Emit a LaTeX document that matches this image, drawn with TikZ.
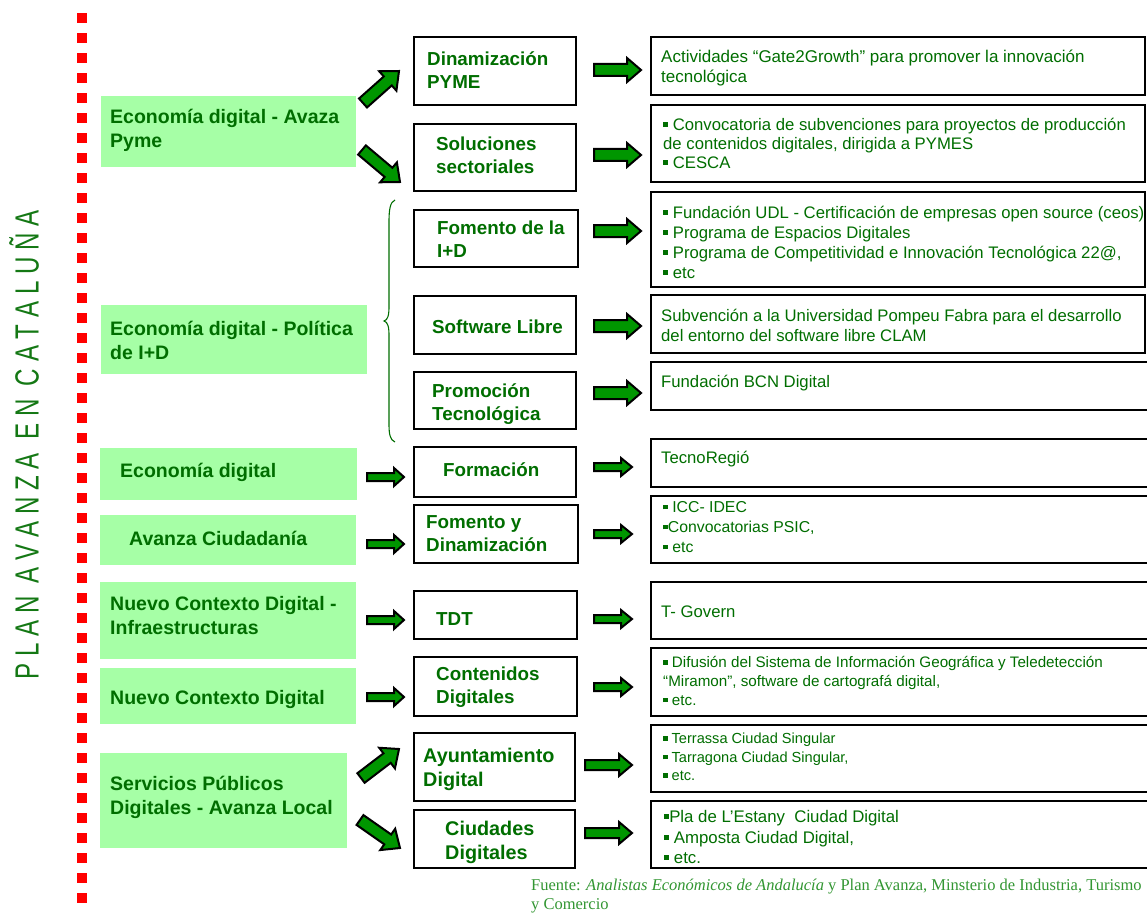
\documentclass[tikz,border=0pt]{standalone}
\usepackage{fontspec}
\setmainfont{Liberation Sans}
\newfontfamily\footfont{Liberation Serif}
\usetikzlibrary{calc}
\definecolor{tgreen}{RGB}{0,110,0}
\definecolor{boxgreen}{RGB}{166,255,166}
\definecolor{agreen}{RGB}{0,150,0}
\definecolor{fgreen}{RGB}{50,150,50}
\definecolor{vgreen}{RGB}{20,120,20}
\newcommand\bul{\raisebox{0.2em}{\rule{0.3em}{0.3em}}}
\newcommand\cbox[6]{\node[#1, minimum width={#5-#3}, minimum height={#6-#4}] (#2) at ({(#3+#5)/2},{(#4+#6)/2}) {};}
\newcommand\barrow[5]{%
  \coordinate (bh) at ($(#2)!#5!(#1)$);
  \draw[blk] ($(#1)!#3!90:(#2)$) -- ($(bh)!#3!90:(#2)$) -- ($(bh)!#4!90:(#2)$) -- (#2)
    -- ($(bh)!#4!-90:(#2)$) -- ($(bh)!#3!-90:(#2)$) -- ($(#1)!#3!-90:(#2)$) -- cycle;}
\begin{document}
\begin{tikzpicture}[x=1pt,y=-1pt,
  gbox/.style={fill=boxgreen, draw=none, inner sep=0pt, outer sep=0pt},
  mbox/.style={draw=black, line width=2.5pt, fill=white, inner sep=0pt},
  rbox/.style={draw=black, line width=2.8pt, fill=white, inner sep=0pt},
  gtxt/.style={text=tgreen, font=\bfseries\fontsize{19.5}{24}\selectfont, align=left, inner sep=0pt, anchor=west},
  mtxt/.style={text=tgreen, font=\bfseries\fontsize{18.8}{23}\selectfont, align=left, inner sep=0pt, anchor=west},
  rtxt/.style={text=tgreen, font=\fontsize{16.7}{20}\selectfont, align=left, inner sep=0pt, anchor=west},
  blk/.style={draw=black, line width=2pt, fill=agreen, line join=miter}]
\useasboundingbox (0,0) rectangle (1147,912);
\fill[white] (0,0) rectangle (1147,912);

% red dotted line
\foreach \k in {0,...,44} \fill[red] (77,{13+20*\k}) rectangle ++(10,10);

% vertical title
\node[rotate=90, text=vgreen, font=\fontsize{33.5}{33.5}\selectfont, inner sep=0pt] (title) at (24,445)
  {\scalebox{0.72}[1]{P L A N\ \ A V A N Z A\ \ E N\ \ C A T A L U Ñ A}};

% left green boxes
\cbox{gbox}{g1}{101}{96}{356}{167}
\cbox{gbox}{g2}{101}{305}{367}{374}
\cbox{gbox}{g3}{100}{448}{357}{500}
\cbox{gbox}{g4}{100}{515}{356}{565}
\cbox{gbox}{g5}{100}{582}{356}{659}
\cbox{gbox}{g6}{100}{668}{356}{724}
\cbox{gbox}{g7}{100}{753}{347}{848}

% middle boxes
\cbox{mbox}{a}{414}{37}{576}{105}
\cbox{mbox}{b}{414}{124}{576}{191}
\cbox{mbox}{c}{414}{210}{578}{267}
\cbox{mbox}{d}{414}{296}{576}{354}
\cbox{mbox}{e}{414}{372}{576}{429}
\cbox{mbox}{f}{414}{447}{576}{497}
\cbox{mbox}{g}{414}{505}{578}{563}
\cbox{mbox}{h}{414}{591}{577}{639}
\cbox{mbox}{i}{414}{657}{577}{716}
\cbox{mbox}{j}{414}{733}{575}{801}
\cbox{mbox}{k}{414}{810}{575}{868}

% right boxes
\cbox{rbox}{r1}{651}{37}{1145}{95}
\cbox{rbox}{r2}{651}{105}{1145}{182}
\cbox{rbox}{r3}{651}{192}{1145}{287}
\cbox{rbox}{r4}{651}{295}{1145}{353}
\cbox{rbox}{r5}{651}{362}{1155}{410}
\cbox{rbox}{r6}{651}{439}{1155}{487}
\cbox{rbox}{r7}{651}{496}{1155}{563}
\cbox{rbox}{r8}{651}{582}{1155}{639}
\cbox{rbox}{r9}{651}{648}{1155}{716}
\cbox{rbox}{r10}{651}{725}{1155}{792}
\cbox{rbox}{r11}{651}{801}{1155}{868}

% brace
\draw[tgreen, line width=1.1pt] (395,200) .. controls (390,202) and (389,210) .. (389,222) -- (389,306)
  .. controls (389,315) and (388,320) .. (384,321) .. controls (388,322) and (389,327) .. (389,336)
  -- (389,424) .. controls (389,434) and (390,440) .. (395,442);

% arrow end points
\coordinate (as) at (594,70);  \coordinate (ae) at (641,70);
\coordinate (bs) at (594,155); \coordinate (be) at (641,155);
\coordinate (cs) at (594,231); \coordinate (ce) at (641,231);
\coordinate (ds) at (594,326); \coordinate (de) at (641,326);
\coordinate (es) at (594,393); \coordinate (ee) at (641,393);
\coordinate (fs) at (594,467); \coordinate (fe) at (632,467);
\coordinate (gs) at (594,534); \coordinate (ge) at (632,534);
\coordinate (hs) at (594,619); \coordinate (he) at (632,619);
\coordinate (is) at (594,687); \coordinate (ie) at (632,687);
\coordinate (js) at (585,765); \coordinate (je) at (632,765);
\coordinate (ks) at (585,833); \coordinate (ke) at (632,833);
\coordinate (l3s) at (367,477); \coordinate (l3e) at (404,477);
\coordinate (l4s) at (367,544); \coordinate (l4e) at (404,544);
\coordinate (l5s) at (367,620); \coordinate (l5e) at (404,620);
\coordinate (l6s) at (367,697); \coordinate (l6e) at (404,697);
\coordinate (u1s) at (363,103); \coordinate (u1e) at (399,71);
\coordinate (d1s) at (362,150); \coordinate (d1e) at (400,182);
\coordinate (u7s) at (361,778); \coordinate (u7e) at (399,749);
\coordinate (d7s) at (360,820); \coordinate (d7e) at (400,848);

\barrow{as}{ae}{6pt}{12pt}{14pt}
\barrow{bs}{be}{6pt}{12pt}{14pt}
\barrow{cs}{ce}{6pt}{12pt}{14pt}
\barrow{ds}{de}{6pt}{12pt}{14pt}
\barrow{es}{ee}{6pt}{12pt}{14pt}
\barrow{fs}{fe}{4pt}{9pt}{11pt}
\barrow{gs}{ge}{4pt}{9pt}{11pt}
\barrow{hs}{he}{4pt}{9pt}{11pt}
\barrow{is}{ie}{4pt}{9pt}{11pt}
\barrow{js}{je}{5pt}{11pt}{13pt}
\barrow{ks}{ke}{5pt}{11pt}{13pt}
\barrow{l3s}{l3e}{4pt}{9pt}{10pt}
\barrow{l4s}{l4e}{4pt}{9pt}{10pt}
\barrow{l5s}{l5e}{4pt}{9pt}{10pt}
\barrow{l6s}{l6e}{4pt}{9pt}{10pt}
\barrow{u1s}{u1e}{6pt}{13pt}{15pt}
\barrow{d1s}{d1e}{6pt}{13pt}{15pt}
\barrow{u7s}{u7e}{6pt}{13pt}{15pt}
\barrow{d7s}{d7e}{6pt}{13pt}{15pt}

% green box texts
\node[gtxt] (g1t) at (110,130) {Economía digital - Avaza\\Pyme};
\node[gtxt] (g2t) at (110,340) {Economía digital - Política\\de I+D};
\node[gtxt] (g3t) at (120,472) {Economía digital};
\node[gtxt] (g4t) at (129,538) {Avanza Ciudadanía};
\node[gtxt] (g5t) at (110,616) {Nuevo Contexto Digital -\\Infraestructuras};
\node[gtxt] (g6t) at (110,699) {Nuevo Contexto Digital};
\node[gtxt] (g7t) at (110,797) {Servicios Públicos\\Digitales - Avanza Local};

% middle texts
\node[mtxt] (at) at (427,70) {Dinamización\\PYME};
\node[mtxt] (bt) at (436,155) {Soluciones\\sectoriales};
\node[mtxt] (ct) at (437,239) {Fomento de la\\I+D};
\node[mtxt] (dt) at (432,327) {Software Libre};
\node[mtxt] (et) at (432,404) {Promoción\\Tecnológica};
\node[mtxt] (ft) at (443,470) {Formación};
\node[mtxt] (gt) at (426,534) {Fomento y\\Dinamización};
\node[mtxt] (ht) at (436,619) {TDT};
\node[mtxt] (it) at (436,687) {Contenidos\\Digitales};
\node[mtxt, font=\bfseries\fontsize{19.8}{24}\selectfont] (jt) at (423,769) {Ayuntamiento\\Digital};
\node[mtxt, font=\bfseries\fontsize{19.8}{24}\selectfont] (kt) at (445,842) {Ciudades\\Digitales};

% right texts
\node[rtxt, font=\fontsize{17}{20}\selectfont] (r1t) at (661,68) {Actividades “Gate2Growth” para promover la innovación\\tecnológica};
\node[rtxt, font=\fontsize{16.7}{19}\selectfont] (r2t) at (663,143) {\bul\ Convocatoria de subvenciones para proyectos de producción\\de contenidos digitales, dirigida a PYMES\\\bul\ CESCA};
\node[rtxt] (r3t) at (663,242) {\bul\ Fundación UDL - Certificación de empresas open source (ceos)\\\bul\ Programa de Espacios Digitales\\\bul\ Programa de Competitividad e Innovación Tecnológica 22@,\\\bul\ etc};
\node[rtxt] (r4t) at (661,325) {Subvención a la Universidad Pompeu Fabra para el desarrollo\\del entorno del software libre CLAM};
\node[rtxt] (r5t) at (661,383) {Fundación BCN Digital};
\node[rtxt] (r6t) at (661,459) {TecnoRegió};
\node[rtxt, font=\fontsize{15.8}{20}\selectfont] (r7t) at (663,527) {\bul\ ICC- IDEC\\\bul Convocatorias PSIC,\\\bul\ etc};
\node[rtxt] (r8t) at (661,612) {T- Govern};
\node[rtxt, font=\fontsize{15.2}{18.7}\selectfont] (r9t) at (663,681) {\bul\ Difusión del Sistema de Información Geográfica y Teledetección\\“Miramon”, software de cartografá digital,\\\bul\ etc.};
\node[rtxt, font=\fontsize{14.6}{18.5}\selectfont] (r10t) at (663,757) {\bul\ Terrassa Ciudad Singular\\\bul\ Tarragona Ciudad Singular,\\\bul\ etc.};
\node[rtxt, font=\fontsize{16.8}{20.5}\selectfont] (r11t) at (664,837) {\bul Pla de L’Estany\ \ Ciudad Digital\\\bul\ Amposta Ciudad Digital,\\\bul\ etc.};

% source
\node[anchor=west, align=left, inner sep=0pt, text=fgreen, font=\footfont\fontsize{16.5}{18.5}\selectfont] (src) at (531,896)
  {Fuente: \textit{Analistas Económicos de Andalucía} y Plan Avanza, Minsterio de Industria, Turismo\\y Comercio};
\end{tikzpicture}
\end{document}
